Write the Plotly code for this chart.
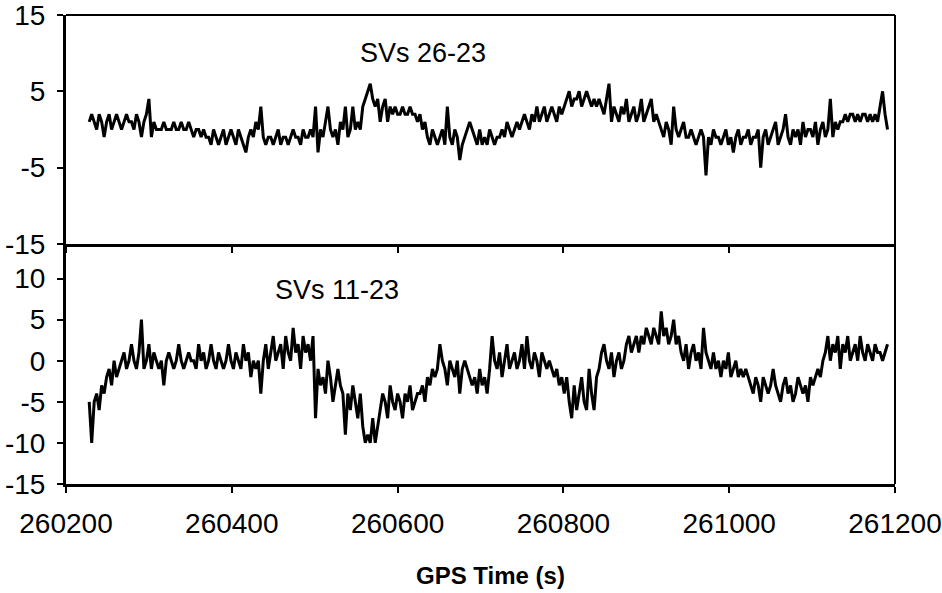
import plotly.graph_objects as go

# ---- data ----
t_start = 260228      # first sample time (s)
t_step = 3            # sample spacing (s)

sv_26_23 = [
    1, 2, 1, 0, 2, 1, -1, 1, 2, 0, 1, 2, 1, 0, 1, 2, 1, 1, 0, 2, 1, -1, 1, 2, 4, -1, 1, 0,
    0, 0, 1, 0, 0, 0, 1, 0, 0, 1, 0, 0, 1,
    0, -1, 0, 0, -1, 0, -1,
    -1, -2, 0, -1, -2, -1, 0, -2, -1, 0, -1, -2, 0, -1, -2, -3, -1, 0, -1, 1, 0, 3,
    -1, -2, -1, -1, -2, -1, 0, -2, -1, -1, -2, -1, 0, -1, -1, -2, 0, -1, -1, 0, -1,
    3, -3,
    0, -1, 1, 3, 0, -1, 0, -2, 1, 0, 3, -1, 0, 3, 0, 1, 0,
    3, 4, 5, 6, 4,
    3, 4, 1, 3, 4, 1, 3,
    2, 3, 2, 2, 3, 2, 2, 3, 2, 2,
    1, 2, 0, 1,
    -1, -2, 0, -1, -2, -1, 0, -2, 3, -1, -2, 0, -1, -4, -2, -1, 0, 1, 0,
    -1, -2, 0, -2, -1, -2, 0, -1, -2, -1,
    -1, 0, -1, 1, 0, -1, 0, 1,
    0, 1, 2, 1, 0, 2, 1, 3, 1, 2, 3, 1, 2, 3, 2, 1, 3, 2,
    3, 4, 5, 3, 4, 4, 5, 3, 4, 5, 4, 3, 4, 3, 4,
    3, 2, 4, 6, 1, 3, 2, 1, 3, 2, 4, 1, 2, 3, 1, 2, 4, 1, 2, 3, 4, 1, 2,
    1, 0, -1, 1, 0, -2, 3, 0, -1, 0, 1, -1,
    -1, 0, -1, -2, -1, 0, -1, -6, -1, -2, 0, -1, -1, -2, -1, 0, -2, -1, -3, -1, 0, -2, -1, -1, 0, -2, -1,
    -1, 0, -5, -1, 0, -2, -1, 0, 1, -2, -1, 0, 2, -1, -2, 0, -1, 0, -2, 1, -1, 0,
    0, -1, 1, -2, 0, 1, -1, 0, 4, -1, 1, 0, 1,
    1, 2, 1, 2, 2, 1, 2, 1, 2, 2, 1, 2, 1,
    2, 1, 3, 5, 2, 0,
]

sv_11_23 = [
    -5, -10, -5, -4, -6, -3, -4, -2,
    -1, -3, 0, -2, -1,
    0, 1, -1, 0, 2, 0, -1, 1,
    5, -1, 0, 2, -1, 1, 0, -1,
    0, -3, 0, 1, 0, -1, 0, 2,
    0, -1, 0, 1, 0, 0, -1, 2,
    0, 1, -1, 0, 2, 0, -1, 1,
    0, -1, 0, 2, 0, -1, 1, 0,
    -1, 2, 0, 1, -2, 0, -1, 0,
    -4,
    0, 2, -1, 1, 3, 0, 1, 2, -1, 3, 1, 0, 4, 1, 2, -1, 3, 1, 2, 0, 3,
    -7,
    -1, -3, -2, -4, 0, -2, -5, -3, -1, -3, -4,
    -9, -4, -6, -3, -5, -7, -4,
    -8, -10, -9, -10, -7, -10, -8,
    -6, -4, -5, -7, -3, -5, -6, -4, -5, -7, -4, -5, -3, -6, -5, -4,
    -4, -3, -5, -2, -3, -1, -2, -1,
    2,
    0, -1, -3, 0, -1, -2, 0, -4, -1, 0, -1, -2, -3,
    -2, -4, -1, -3, -2, -4, -1,
    3,
    0, -1, 1, -2, 0, 2, -1, 0, 1, -1, 0, 2, -1, 3, 0, -1, 1, 0, -2, 1, 0, -1, 0,
    -1, -2, -1, -3, -2,
    -4, -2, -5, -7, -3, -6, -4, -2, -5, -6, -1, -4, -6, -2,
    -1, 1, 2,
    0, -1, 1, -2, 0, 1, -1, 0, 2, 3, 1,
    2, 3, 1, 3, 2, 4, 3, 2, 4, 3, 2, 6, 3, 4, 2, 3, 5, 2, 3,
    1, 0, 2, -1, 1, 2, 0, 1, -1, 4, 1,
    0, -1, 1, -1, 0, -2, 0, -1, 1, -2, -1, 0, -2, -1, -2, -1,
    -2, -3, -4, -2, -3, -5, -2, -3, -4, -3, -1, -3, -4, -5, -3, -2, -4, -3, -5, -4, -2, -3, -4, -3, -5, -2, -3, -2,
    -1, -2, 0,
    1, 3, 0, 2, 1, 3, -1, 2, 1, 3, 0, 1, 2, 0, 3, 1, 0, 2, 1, 0, 2, 1, 1, 0, 1, 2,
]

x_ticks = [260200, 260400, 260600, 260800, 261000, 261200]
x_ticktext = ["260200", "260400", "260600", "260800", "261000", "261200"]
x_range = [260200, 261200]
top_yticks = [-15, -5, 5, 15]
top_yticktext = ["-15", "-5", "5", "15"]
top_yrange = [-15, 15]
bot_yticks = [-15, -10, -5, 0, 5, 10]
bot_yticktext = ["-15", "-10", "-5", "0", "5", "10"]
bot_yrange = [-15, 14.2]
label_top = "SVs 26-23"
label_bot = "SVs 11-23"
x_title = "GPS Time (s)"

t_top = [t_start + t_step * i for i in range(len(sv_26_23))]
t_bot = [t_start + t_step * i for i in range(len(sv_11_23))]

FONT = "Liberation Sans, Arial, Helvetica, sans-serif"
FS = 28
split = (484 - 244) / 469.0

fig = go.Figure()
fig.add_trace(go.Scatter(x=t_top, y=sv_26_23, mode="lines", xaxis="x2", yaxis="y2",
                         line=dict(color="black", width=3), showlegend=False, hoverinfo="skip"))
fig.add_trace(go.Scatter(x=t_bot, y=sv_11_23, mode="lines", xaxis="x", yaxis="y",
                         line=dict(color="black", width=3), showlegend=False, hoverinfo="skip"))

common_x = dict(range=x_range, tickvals=x_ticks, ticktext=x_ticktext, showgrid=False,
                zeroline=False, showline=True, linecolor="black", linewidth=3,
                tickcolor="black", tickwidth=2, ticklen=6, automargin=False,
                ticklabeloverflow="allow")
common_y = dict(showgrid=False, zeroline=False, showline=True, linecolor="black",
                linewidth=3, tickcolor="black", tickwidth=2, ticklen=6, automargin=False,
                ticklabeloverflow="allow")

fig.update_layout(
    width=942, height=593,
    margin=dict(l=66, r=47, t=15, b=109),
    paper_bgcolor="white", plot_bgcolor="white",
    font=dict(family=FONT, size=FS, color="black"),
    xaxis=dict(common_x, anchor="y", ticks="outside", ticklabelstandoff=6),
    xaxis3=dict(common_x, anchor="y", overlaying="x", ticks="inside", showticklabels=False),
    xaxis2=dict(common_x, anchor="y2", ticks="outside", showticklabels=False),
    xaxis4=dict(common_x, anchor="y2", overlaying="x2", ticks="inside", showticklabels=False),
    yaxis=dict(common_y, domain=[0, split], range=bot_yrange, tickvals=bot_yticks,
               ticktext=bot_yticktext, ticks="outside", anchor="x", ticklabelstandoff=6),
    yaxis3=dict(common_y, domain=[0, split], range=bot_yrange, tickvals=bot_yticks,
                ticks="inside", showticklabels=False, overlaying="y", anchor="x"),
    yaxis2=dict(common_y, domain=[split, 1], range=top_yrange, tickvals=top_yticks,
                ticktext=top_yticktext, ticks="outside", anchor="x2", ticklabelstandoff=6),
    yaxis4=dict(common_y, domain=[split, 1], range=top_yrange, tickvals=top_yticks,
                ticks="inside", showticklabels=False, overlaying="y2", anchor="x2"),
    shapes=[
        dict(type="line", xref="paper", yref="paper", x0=1, x1=1, y0=0, y1=1,
             line=dict(color="black", width=2)),
        dict(type="line", xref="paper", yref="paper", x0=0, x1=1, y0=1, y1=1,
             line=dict(color="black", width=2)),
    ],
    annotations=[
        dict(text=label_top, x=260631, y=10, xref="x2", yref="y2", showarrow=False,
             font=dict(size=27)),
        dict(text=label_bot, x=260527, y=8.6, xref="x", yref="y", showarrow=False,
             font=dict(size=27)),
        dict(text="<b>" + x_title + "</b>", x=0.512, y=-(575 - 484) / 469.0,
             xref="paper", yref="paper", showarrow=False, yanchor="middle",
             font=dict(size=24)),
    ],
)

# remove the default page margin so the 942x593 figure fills the window exactly
fig.write_html("out.html", config={"displayModeBar": False},
               post_script="document.body.style.margin='0px';document.body.style.overflow='hidden';")
